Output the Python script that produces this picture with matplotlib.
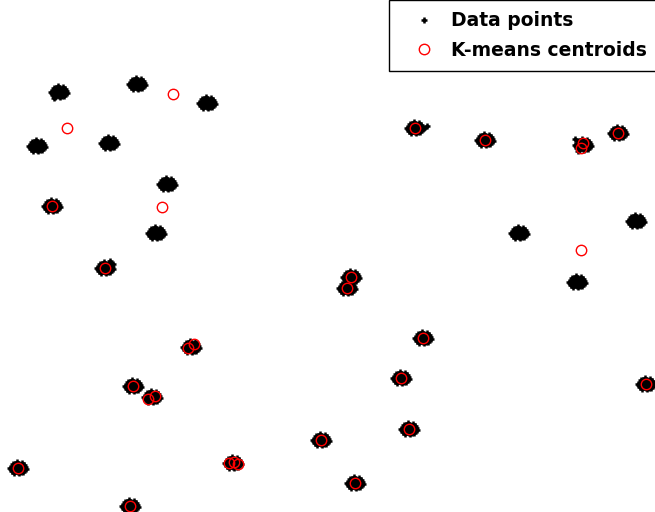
import numpy as np
import matplotlib.pyplot as plt

plt.rcParams['font.family'] = ['DejaVu Sans']

# cluster centres (pixel-like units, y grows downward)
cluster_x = [59, 137, 207, 37, 109, 167, 52, 156, 105, 415, 485, 583, 618,
             519, 636, 577, 351, 347, 423, 191, 133, 152, 401, 646, 409,
             321, 233, 18, 355, 130]
cluster_y = [92, 84, 103, 146, 143, 184, 206, 233, 268, 128, 140, 145, 133,
             233, 221, 282, 277, 288, 338, 347, 386, 397, 378, 384, 429,
             440, 463, 468, 483, 506]

# spread of the points around each centre, read from one blob
spread_dx = [0, -2, 2, -4, 4, -6, 6, 0, 0, -3, 3, -3, 3, -5, 5, -7, 7,
             -1, 1, -6, 6, 0, -4, 4, 2, -2, 5, -5, -8, 8]
spread_dy = [0, -2, 2, 1, -1, 0, 0, -4, 4, -4, 4, 3, -3, -2, 2, 1, -1,
             -6, 5, 3, -3, 1, 5, -5, -1, 1, 4, -4, 0, 1]

# a few extra points sticking out of some blobs
extra_x = [427, 424, 113, 110, 54, 575, 578]
extra_y = [126, 128, 264, 261, 98, 139, 151]

# K-means centroids
cent_x = [67, 173, 162, 581, 415, 485, 583, 581, 618, 52, 105, 351, 347,
          423, 188, 194, 133, 148, 155, 401, 646, 409, 321, 229, 234, 238,
          18, 355, 130]
cent_y = [128, 94, 207, 250, 128, 140, 143, 148, 133, 206, 268, 277, 288,
          338, 348, 344, 386, 399, 396, 378, 384, 429, 440, 463, 462, 464,
          468, 483, 506]

px = []
py = []
for cx, cy in zip(cluster_x, cluster_y):
    for dx, dy in zip(spread_dx, spread_dy):
        px.append(cx + dx)
        py.append(cy + dy)
px += extra_x
py += extra_y

fig = plt.figure(figsize=(6.55, 5.12), dpi=100)
ax = fig.add_axes([0, 0, 1, 1])

ax.plot(px, py, '+', color='black', ms=4.5, mew=1.8, label='Data points')
ax.plot(cent_x, cent_y, 'o', mfc='none', mec='red', ms=7.5, mew=1,
        label='K-means centroids')

ax.set_xlim(0, 655)
ax.set_ylim(512, 0)
ax.axis('off')

leg = ax.legend(loc='upper left', bbox_to_anchor=(389 / 655, 1.0),
                fancybox=False, framealpha=1, edgecolor='black',
                borderaxespad=0, prop={'weight': 'bold', 'size': 13.5},
                handlelength=2.54, handletextpad=0.17, borderpad=0.6,
                labelspacing=0.55)
leg.get_frame().set_linewidth(1)

fig.savefig('out.png', dpi=100)
